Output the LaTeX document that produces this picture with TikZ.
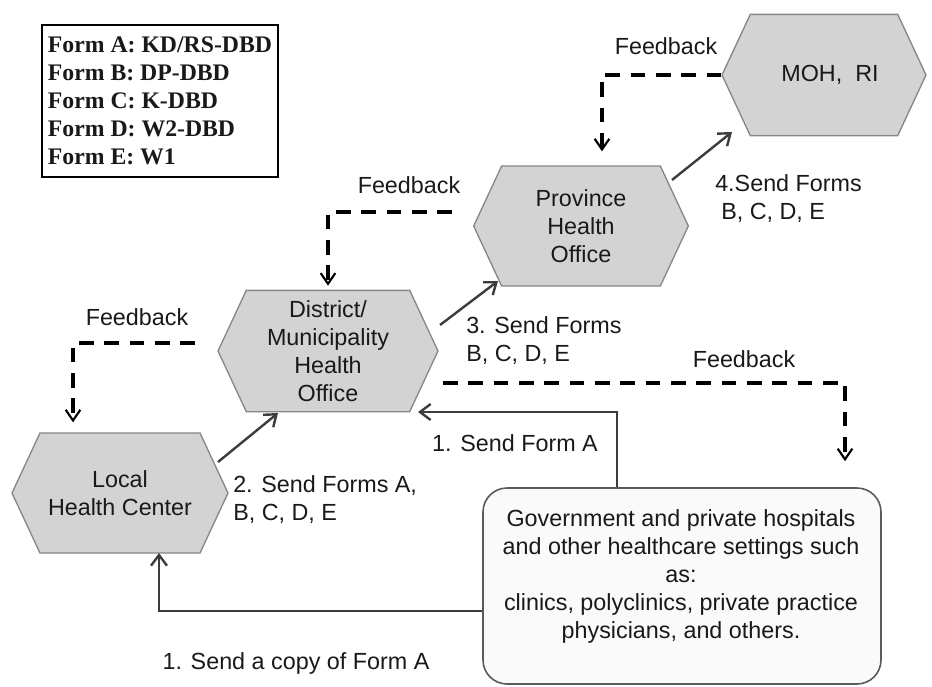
\documentclass[tikz,border=0pt]{standalone}
\usepackage{fontspec}
\setmainfont{Liberation Sans}
\newfontfamily\legendfont{Liberation Serif}
\usetikzlibrary{arrows.meta,shapes.symbols}
\definecolor{hexfill}{RGB}{211,211,211}
\definecolor{hexline}{RGB}{135,135,135}
\definecolor{arrcol}{RGB}{60,60,60}
\definecolor{boxfill}{RGB}{250,250,250}
\definecolor{boxline}{RGB}{90,90,90}
\definecolor{txt}{RGB}{25,25,25}
\begin{document}
\begin{tikzpicture}[x=0.75pt,y=-0.75pt,
  every node/.style={text=txt, font=\fontsize{17.5}{21}\selectfont},
  hexa/.style={signal, signal to=east and west, signal pointer angle=130,
    draw=hexline, fill=hexfill, line width=1pt, inner sep=0pt, align=center},
  arr/.style={draw=arrcol, line width=1.8pt, -{Straight Barb[length=8pt,width=12pt]}},
  fb/.style={draw=black, line width=2.6pt, dash pattern=on 11pt off 8pt,
    -{Straight Barb[length=8pt,width=11pt,line width=1.6pt]}},
  lbl/.style={inner sep=0pt, align=left}]
\useasboundingbox (0,0) rectangle (932,686);

% legend
\node[draw=black, line width=2.2pt, minimum width=177pt, minimum height=114pt,
  align=left, font=\legendfont\bfseries\fontsize{17.8}{21}\selectfont] (legend) at (160,101)
  {Form A: KD/RS-DBD\\Form B: DP-DBD\\Form C: K-DBD\\Form D: W2-DBD\\Form E: W1};

% hexagons
\node[hexa, minimum width=162pt, minimum height=90pt] (local) at (120,493) {Local\\Health Center};
\node[hexa, minimum width=165pt, minimum height=91pt] (district) at (328,351) {District/\\Municipality\\Health\\Office};
\node[hexa, minimum width=161pt, minimum height=90pt] (province) at (581,226) {Province\\Health\\Office};
\node[hexa, minimum width=153pt, minimum height=91pt] (moh) at (824,75) {\hspace*{9pt}MOH,\ \ RI};

% hospitals box
\node[draw=boxline, fill=boxfill, line width=1.2pt, rounded corners=18pt,
  minimum width=298.5pt, minimum height=147pt] (gov) at (682,586) {};
\node[align=center, inner sep=0pt] (govtext) at (681,576)
  {Government and private hospitals\\and other healthcare settings such\\as:\\clinics, polyclinics, private practice\\physicians, and others.};

% labels
\node[lbl] (fbtop) at (666,46) {Feedback};
\node[lbl] (fbmid) at (409,185) {Feedback};
\node[lbl] (fbleft) at (137,317) {Feedback};
\node[lbl] (fbright) at (744,359) {Feedback};
\node[lbl, anchor=west] (l4) at (715,199) {4.Send Forms\\\hspace*{4.5pt}B, C, D, E};
\node[lbl, anchor=west] (l3) at (466,341) {3. Send Forms\\B, C, D, E};
\node[lbl, anchor=west] (l2) at (233,500) {2. Send Forms A,\\B, C, D, E};
\node[lbl] (l1) at (515,443) {1. Send Form A};
\node[lbl] (l1c) at (296,663) {1. Send a copy of Form A};

% solid connectors
\draw[arr] ([shift={(98,-31)}]local.center) -- ([shift={(-50,62)}]district.center);
\draw[arr] ([shift={(112,-26)}]district.center) -- ([shift={(-83,55)}]province.center);
\draw[arr] ([shift={(91,-46)}]province.center) -- ([shift={(-92,57)}]moh.center);
\draw[arr] ([shift={(-65,0)}]gov.north) |- ([shift={(90,61)}]district.center);
\draw[arr] ([shift={(0,25)}]gov.west) -| ([shift={(39,60)}]local.center);

% feedback connectors
\draw[fb] (moh.west) -| ([shift={(21,-14)}]province.north);
\draw[fb] ([shift={(-129,-14)}]province.center) -| ([shift={(0,-4)}]district.north);
\draw[fb] ([shift={(-133,-8)}]district.center) -| ([shift={(-47,-10)}]local.north);
\draw[fb] ([shift={(115,32)}]district.center) -| ([shift={(163,-26)}]gov.north);
\end{tikzpicture}
\end{document}
